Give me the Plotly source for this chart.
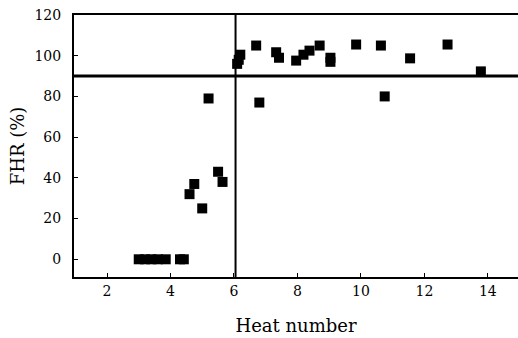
import plotly.graph_objects as go

heat = [3.0, 3.2, 3.4, 3.6, 3.85, 4.3, 4.42,
        4.6, 4.75, 5.0, 5.2, 5.5, 5.64,
        6.1, 6.15, 6.2, 6.7, 6.8, 7.33, 7.42, 7.96, 8.19, 8.38, 8.7,
        9.04, 9.04, 9.85, 10.63, 10.75, 11.55, 12.73, 13.78]
fhr = [0, 0, 0, 0, 0, 0, 0,
       32, 37, 25, 79, 43, 38,
       96, 98, 100.5, 105, 77, 101.7, 99, 97.6, 100.5, 102.5, 105,
       97, 99, 105.5, 105, 80, 98.7, 105.5, 92.3]

threshold_fhr = 90
threshold_heat = 6.05

x_ticks = [2, 4, 6, 8, 10, 12, 14]
y_ticks = [0, 20, 40, 60, 80, 100, 120]

fig = go.Figure()
fig.add_trace(go.Scatter(
    x=heat, y=fhr, mode="markers",
    marker=dict(symbol="square", size=10, color="black", line=dict(width=0)),
    showlegend=False, cliponaxis=False,
))

fig.add_shape(type="line", xref="paper", x0=0, x1=1, yref="y", y0=threshold_fhr, y1=threshold_fhr,
              line=dict(color="black", width=3))
fig.add_shape(type="line", xref="x", x0=threshold_heat, x1=threshold_heat, yref="paper", y0=0, y1=1,
              line=dict(color="black", width=2))

font = dict(family="DejaVu Serif, Liberation Serif, serif", color="black")

fig.update_layout(
    width=518, height=338,
    margin=dict(l=74, r=0, t=15, b=61, autoexpand=False),
    paper_bgcolor="white", plot_bgcolor="white",
    font=dict(size=14, **font),
    xaxis=dict(
        range=[0.96, 14.95], tickvals=x_ticks, ticktext=[str(v) for v in x_ticks],
        showgrid=False, zeroline=False, showline=True, linecolor="black", linewidth=2,
        mirror=True, ticks="inside", ticklen=4, tickcolor="black", tickwidth=1,
        tickfont=dict(size=14, **font), automargin=False, ticklabelstandoff=0,
        title=dict(text="Heat number", font=dict(size=18, **font), standoff=22),
    ),
    yaxis=dict(
        range=[-8.7, 120], tickvals=y_ticks, ticktext=[str(v) for v in y_ticks],
        showgrid=False, zeroline=False, showline=True, linecolor="black", linewidth=2,
        ticks="inside", ticklen=4, tickcolor="black", tickwidth=1,
        tickfont=dict(size=14, **font), automargin=False, ticklabelstandoff=8,
        title=dict(text="FHR (%)", font=dict(size=18, **font), standoff=5),
    ),
)

fig.write_html(
    "out.html",
    config={"displayModeBar": False},
    post_script="document.body.style.margin='0px';document.body.style.overflow='hidden';",
)
